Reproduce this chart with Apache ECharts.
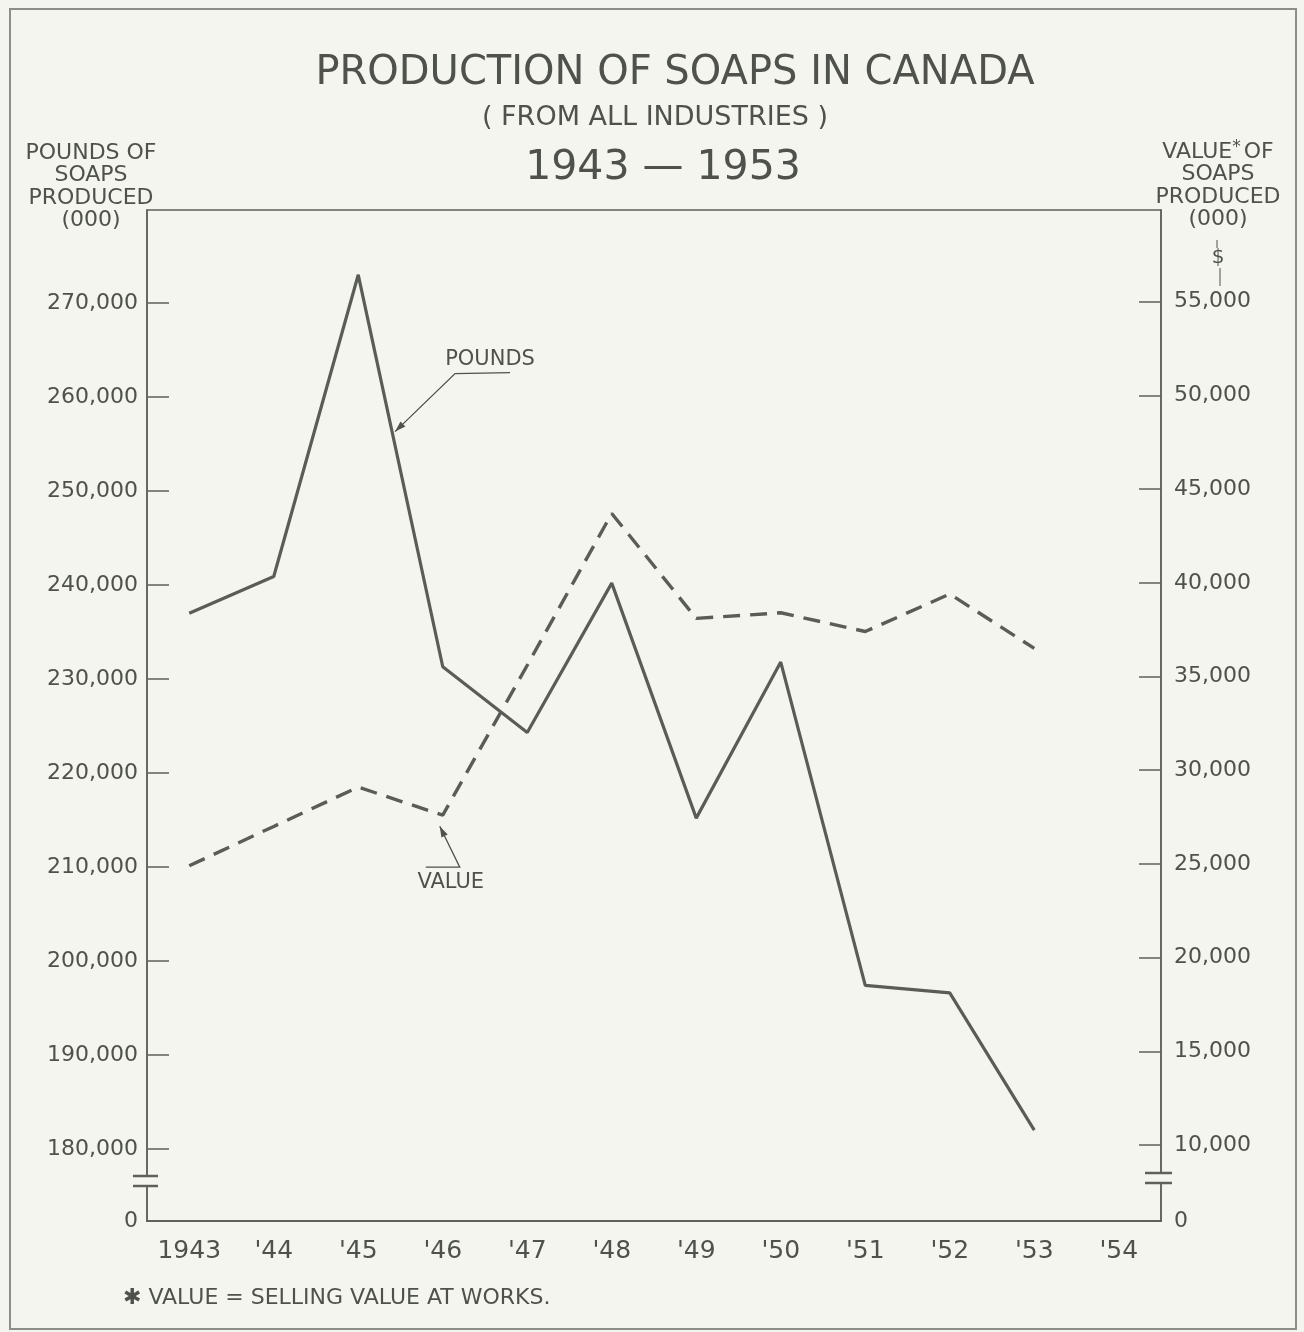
<!DOCTYPE html>
<html>
<head>
<meta charset="utf-8">
<script src="https://cdn.jsdelivr.net/npm/echarts@6/dist/echarts.min.js"></script>
<style>
html,body{margin:0;padding:0;background:#f5f5ef;}
#main{width:1304px;height:1332px;}
</style>
</head>
<body>
<div id="main"></div>
<script>
// data
const years = ['1943', "'44", "'45", "'46", "'47", "'48", "'49", "'50", "'51", "'52", "'53", "'54"];
const pounds = [237000, 240900, 273000, 231300, 224300, 240200, 215200, 231800, 197400, 196600, 182000];
const values = [24900, 27000, 29100, 27600, 35600, 43700, 38100, 38400, 37400, 39400, 36500];
const poundTicks = [180000, 190000, 200000, 210000, 220000, 230000, 240000, 250000, 260000, 270000];
const valueTicks = [10000, 15000, 20000, 25000, 30000, 35000, 40000, 45000, 50000, 55000];

// broken axes: the bottom of each axis stands for 0
const poundsMin = 172340, poundsMax = 279894;
const valueMin = 5945, valueMax = 59893;

const ink = '#4e514c';
const lineInk = '#5a5d57';
const font = '"DejaVu Sans", sans-serif';

const fmt = v => String(v).replace(/\B(?=(\d{3})+(?!\d))/g, ',');

const chartEl = document.getElementById('main');
const chart = echarts.init(chartEl);

const option = {
    backgroundColor: '#f5f5ef',
    animation: false,
    title: [
        { text: 'PRODUCTION OF SOAPS IN CANADA', left: 670, top: 49, textAlign: 'center',
          textStyle: { fontFamily: font, fontSize: 40, fontWeight: 'normal', color: ink } },
        { text: '( FROM ALL INDUSTRIES )', left: 650, top: 99, textAlign: 'center',
          textStyle: { fontFamily: font, fontSize: 27, fontWeight: 'normal', color: ink } },
        { text: '1943 \u2014 1953', left: 658, top: 143, textAlign: 'center',
          textStyle: { fontFamily: font, fontSize: 41, fontWeight: 'normal', color: ink } }
    ],
    grid: {
        left: 147, right: 143, top: 210, bottom: 111,
        show: true, borderColor: '#5e605b', borderWidth: 1.5, backgroundColor: 'transparent'
    },
    xAxis: {
        type: 'category',
        data: years,
        boundaryGap: true,
        axisLine: { lineStyle: { color: '#5e605b', width: 2 } },
        axisTick: { inside: true, length: 23, alignWithLabel: true, lineStyle: { color: '#5e605b', width: 1.5 } },
        axisLabel: { margin: 18, color: ink, fontFamily: font, fontSize: 25 },
        splitLine: { show: false }
    },
    yAxis: [
        {
            type: 'value', position: 'left', min: poundsMin, max: poundsMax,
            axisLine: { show: true, lineStyle: { color: '#5e605b', width: 1.5 } },
            axisTick: { show: true, inside: true, length: 22, customValues: poundTicks,
                        lineStyle: { color: '#5e605b', width: 1.5 } },
            axisLabel: { margin: 9, color: ink, fontFamily: font, fontSize: 22,
                         customValues: [poundsMin].concat(poundTicks),
                         formatter: v => v < poundTicks[0] ? '0' : fmt(v) },
            splitLine: { show: false }
        },
        {
            type: 'value', position: 'right', min: valueMin, max: valueMax,
            axisLine: { show: true, lineStyle: { color: '#5e605b', width: 1.5 } },
            axisTick: { show: true, inside: true, length: 22, customValues: valueTicks,
                        lineStyle: { color: '#5e605b', width: 1.5 } },
            axisLabel: { margin: 13, color: ink, fontFamily: font, fontSize: 22,
                         customValues: [valueMin].concat(valueTicks),
                         formatter: v => v < valueTicks[0] ? '0' : fmt(v) },
            splitLine: { show: false }
        }
    ],
    series: [
        {
            name: 'POUNDS', type: 'line', yAxisIndex: 0, data: pounds,
            symbol: 'none', lineStyle: { color: lineInk, width: 3.2 }, z: 3
        },
        {
            name: 'VALUE', type: 'line', yAxisIndex: 1, data: values,
            symbol: 'none', lineStyle: { color: lineInk, width: 3.4, type: [17, 10] }, z: 3
        }
    ]
};

chart.setOption(option);

// decorations placed from the axes
function px(axis, i, v) {
    return chart.convertToPixel({ xAxisIndex: 0, yAxisIndex: axis }, [i, v]);
}
function arrowHead(tip, from) {
    const dx = tip[0] - from[0], dy = tip[1] - from[1];
    const len = Math.sqrt(dx * dx + dy * dy);
    const ux = dx / len, uy = dy / len;
    const bx = tip[0] - ux * 11, by = tip[1] - uy * 11;
    return {
        type: 'polygon', z: 20,
        shape: { points: [tip, [bx - uy * 3.5, by + ux * 3.5], [bx + uy * 3.5, by - ux * 3.5]] },
        style: { fill: ink }
    };
}

const p45 = px(0, 2, pounds[2]);
const p46 = px(0, 3, pounds[3]);
const t = 0.40;
const poundsTip = [p45[0] + (p46[0] - p45[0]) * t + 3, p45[1] + (p46[1] - p45[1]) * t];
const poundsKnee = [poundsTip[0] + 60, poundsTip[1] - 58];

const v46 = px(1, 3, values[3]);
const valueTip = [v46[0] - 3, v46[1] + 11];
const valueKnee = [valueTip[0] + 20, valueTip[1] + 41];

const axisBottom = px(0, 0, poundsMin)[1];
const leftX = 147, rightX = 1161;
const bg = '#f5f5ef';

function breakMark(x, yc, l, r) {
    return [
        { type: 'rect', z: 15, shape: { x: x - 3, y: yc - 4, width: 6, height: 8 }, style: { fill: bg } },
        { type: 'line', z: 16, shape: { x1: x - l, y1: yc - 5, x2: x + r, y2: yc - 5 }, style: { stroke: '#5e605b', lineWidth: 2.5 } },
        { type: 'line', z: 16, shape: { x1: x - l, y1: yc + 5, x2: x + r, y2: yc + 5 }, style: { stroke: '#5e605b', lineWidth: 2.5 } }
    ];
}

const textStyle = (text, x, y, size, align) => ({
    type: 'text', z: 20,
    style: { text: text, x: x, y: y, fill: ink, font: size + 'px ' + font,
             textAlign: align || 'center', textVerticalAlign: 'middle', lineHeight: 22.5 }
});

const graphics = [
    { type: 'rect', z: -1, shape: { x: 10, y: 9, width: 1286, height: 1320 },
      style: { fill: 'none', stroke: '#8c8e88', lineWidth: 2 } },
    // axis titles
    textStyle('POUNDS OF\nSOAPS\nPRODUCED\n(000)', 91, 187, 22),
    {
        type: 'text', z: 20,
        style: {
            text: '{a|VALUE}{s|*}{a|OF}\n{a|SOAPS}\n{a|PRODUCED}\n{a|(000)}',
            x: 1218, y: 186, textAlign: 'center', textVerticalAlign: 'middle',
            rich: {
                a: { fontFamily: font, fontSize: 22, fill: ink, lineHeight: 22.5 },
                s: { fontFamily: font, fontSize: 17, fill: ink, lineHeight: 22.5, padding: [0, 3, 10, 0] }
            }
        }
    },
    textStyle('$', 1218, 258, 20),
    { type: 'line', z: 20, shape: { x1: 1220, y1: 268, x2: 1220, y2: 286 }, style: { stroke: ink, lineWidth: 1 } },
    { type: 'line', z: 20, shape: { x1: 1217, y1: 240, x2: 1217, y2: 248 }, style: { stroke: ink, lineWidth: 1 } },
    // POUNDS label
    textStyle('POUNDS', poundsKnee[0] + 35, poundsKnee[1] - 14, 21),
    { type: 'polyline', z: 20, shape: { points: [[poundsKnee[0] + 55, poundsKnee[1] - 1], poundsKnee, poundsTip] },
      style: { stroke: ink, lineWidth: 1.3, fill: 'none' } },
    arrowHead(poundsTip, poundsKnee),
    // VALUE label
    textStyle('VALUE', valueKnee[0] - 9, valueKnee[1] + 15, 21),
    { type: 'polyline', z: 20, shape: { points: [[valueKnee[0] - 34, valueKnee[1]], valueKnee, valueTip] },
      style: { stroke: ink, lineWidth: 1.3, fill: 'none' } },
    arrowHead(valueTip, valueKnee),
    // footnote
    textStyle('\u2731 VALUE = SELLING VALUE AT WORKS.', 123, 1298, 22, 'left')
].concat(breakMark(leftX, axisBottom - 40, 14, 11))
 .concat(breakMark(rightX, axisBottom - 43, 16, 11));

chart.setOption({ graphic: graphics });
</script>
</body>
</html>
